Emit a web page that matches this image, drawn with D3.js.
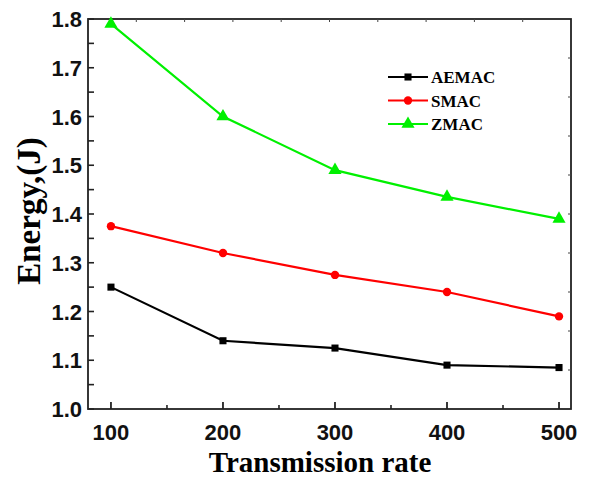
<!DOCTYPE html>
<html><head><meta charset="utf-8">
<script src="https://cdn.jsdelivr.net/npm/d3@7"></script>
<style>body{margin:0;background:#fff}svg{display:block}</style>
</head><body><svg id="c" width="589" height="479"></svg>
<script>
const rates = [100, 200, 300, 400, 500];
const aemac = [1.25, 1.14, 1.125, 1.09, 1.085];
const smac = [1.375, 1.32, 1.275, 1.24, 1.19];
const zmac = [1.79, 1.60, 1.49, 1.435, 1.39];
const seriesNames = ["AEMAC", "SMAC", "ZMAC"];
const seriesColors = ["#000000", "#ff0000", "#00f000"];
const seriesShapes = [d3.symbolSquare, d3.symbolCircle, d3.symbolTriangle];
const xTicks = [100, 200, 300, 400, 500];
const yTicks = [1.0, 1.1, 1.2, 1.3, 1.4, 1.5, 1.6, 1.7, 1.8];

const L = 88, R = 571, T = 19, B = 409;
const svg = d3.select("#c");
const x = d3.scaleLinear().domain([79.5, 510.7]).range([L, R]);
const y = d3.scaleLinear().domain([1.0, 1.8]).range([B, T]);
const sans = "'Liberation Sans', Arial, sans-serif";
const serif = "'Liberation Serif', 'Times New Roman', serif";

// frame
svg.append("rect").attr("x", L).attr("y", T).attr("width", R - L).attr("height", B - T)
  .attr("fill", "none").attr("stroke", "#222").attr("stroke-width", 1.8);

// bottom axis ticks (inward)
const minorX = d3.range(150, 501, 100);
svg.append("g").selectAll("line").data(xTicks).join("line")
  .attr("x1", d => x(d)).attr("x2", d => x(d)).attr("y1", B).attr("y2", B - 7)
  .attr("stroke", "#222").attr("stroke-width", 1.8);
svg.append("g").selectAll("line").data(minorX).join("line")
  .attr("x1", d => x(d)).attr("x2", d => x(d)).attr("y1", B).attr("y2", B - 4)
  .attr("stroke", "#222").attr("stroke-width", 1.6);
svg.append("g").selectAll("text").data(xTicks).join("text")
  .attr("x", d => x(d)).attr("y", 440).attr("text-anchor", "middle")
  .attr("font-family", sans).attr("font-weight", "bold").attr("font-size", 22)
  .attr("fill", "#111").text(d => d);

// left axis ticks (inward), every 0.05
const leftTicks = d3.range(0, 17).map(i => 1.0 + i * 0.05);
svg.append("g").selectAll("line").data(leftTicks).join("line")
  .attr("x1", L).attr("x2", L + 6).attr("y1", d => y(d)).attr("y2", d => y(d))
  .attr("stroke", "#222").attr("stroke-width", 1.6);
svg.append("g").selectAll("text").data(yTicks).join("text")
  .attr("x", 82).attr("y", d => y(d) + 8).attr("text-anchor", "end")
  .attr("font-family", sans).attr("font-weight", "bold").attr("font-size", 22)
  .attr("fill", "#111").text(d => d.toFixed(1));

// top and right minor ticks
const t10 = d3.scaleLinear().domain([0, 10]).range([L, R]);
const r10 = d3.scaleLinear().domain([0, 10]).range([T, B]);
svg.append("g").selectAll("line").data(d3.range(1, 10)).join("line")
  .attr("x1", d => t10(d)).attr("x2", d => t10(d)).attr("y1", T).attr("y2", T + 3)
  .attr("stroke", "#444").attr("stroke-width", 1);
svg.append("g").selectAll("line").data(d3.range(1, 10)).join("line")
  .attr("x1", R).attr("x2", R - 3).attr("y1", d => r10(d)).attr("y2", d => r10(d))
  .attr("stroke", "#444").attr("stroke-width", 1);

// series
const allSeries = [aemac, smac, zmac];
const line = d3.line().x((d, i) => x(rates[i])).y(d => y(d));
const symSizes = [50, 55, 75];
allSeries.forEach((vals, k) => {
  svg.append("path").datum(vals).attr("d", line).attr("fill", "none")
    .attr("stroke", seriesColors[k]).attr("stroke-width", 2.2);
  svg.append("g").selectAll("path").data(vals).join("path")
    .attr("transform", (d, i) => `translate(${x(rates[i])},${y(d)})`)
    .attr("d", d3.symbol().type(seriesShapes[k]).size(symSizes[k]))
    .attr("fill", seriesColors[k]);
});

// legend
const legY = d3.scaleLinear().domain([0, 2]).range([77, 124]);
seriesNames.forEach((name, k) => {
  const yy = legY(k);
  svg.append("line").attr("x1", 388).attr("x2", 428).attr("y1", yy).attr("y2", yy)
    .attr("stroke", seriesColors[k]).attr("stroke-width", 2.2);
  svg.append("path").attr("transform", `translate(408,${yy})`)
    .attr("d", d3.symbol().type(seriesShapes[k]).size(symSizes[k])).attr("fill", seriesColors[k]);
  svg.append("text").attr("x", 431).attr("y", yy + 6).attr("font-family", serif)
    .attr("font-weight", "bold").attr("font-size", 17).attr("fill", "#000").text(name);
});

// axis titles
svg.append("text").attr("x", 320).attr("y", 472).attr("text-anchor", "middle")
  .attr("font-family", serif).attr("font-weight", "bold").attr("font-size", 29)
  .attr("fill", "#000").text("Transmission rate");
svg.append("text").attr("transform", "translate(40,211) rotate(-90)").attr("text-anchor", "middle")
  .attr("font-family", serif).attr("font-weight", "bold").attr("font-size", 33)
  .attr("fill", "#000").text("Energy,(J)");
</script></body></html>
